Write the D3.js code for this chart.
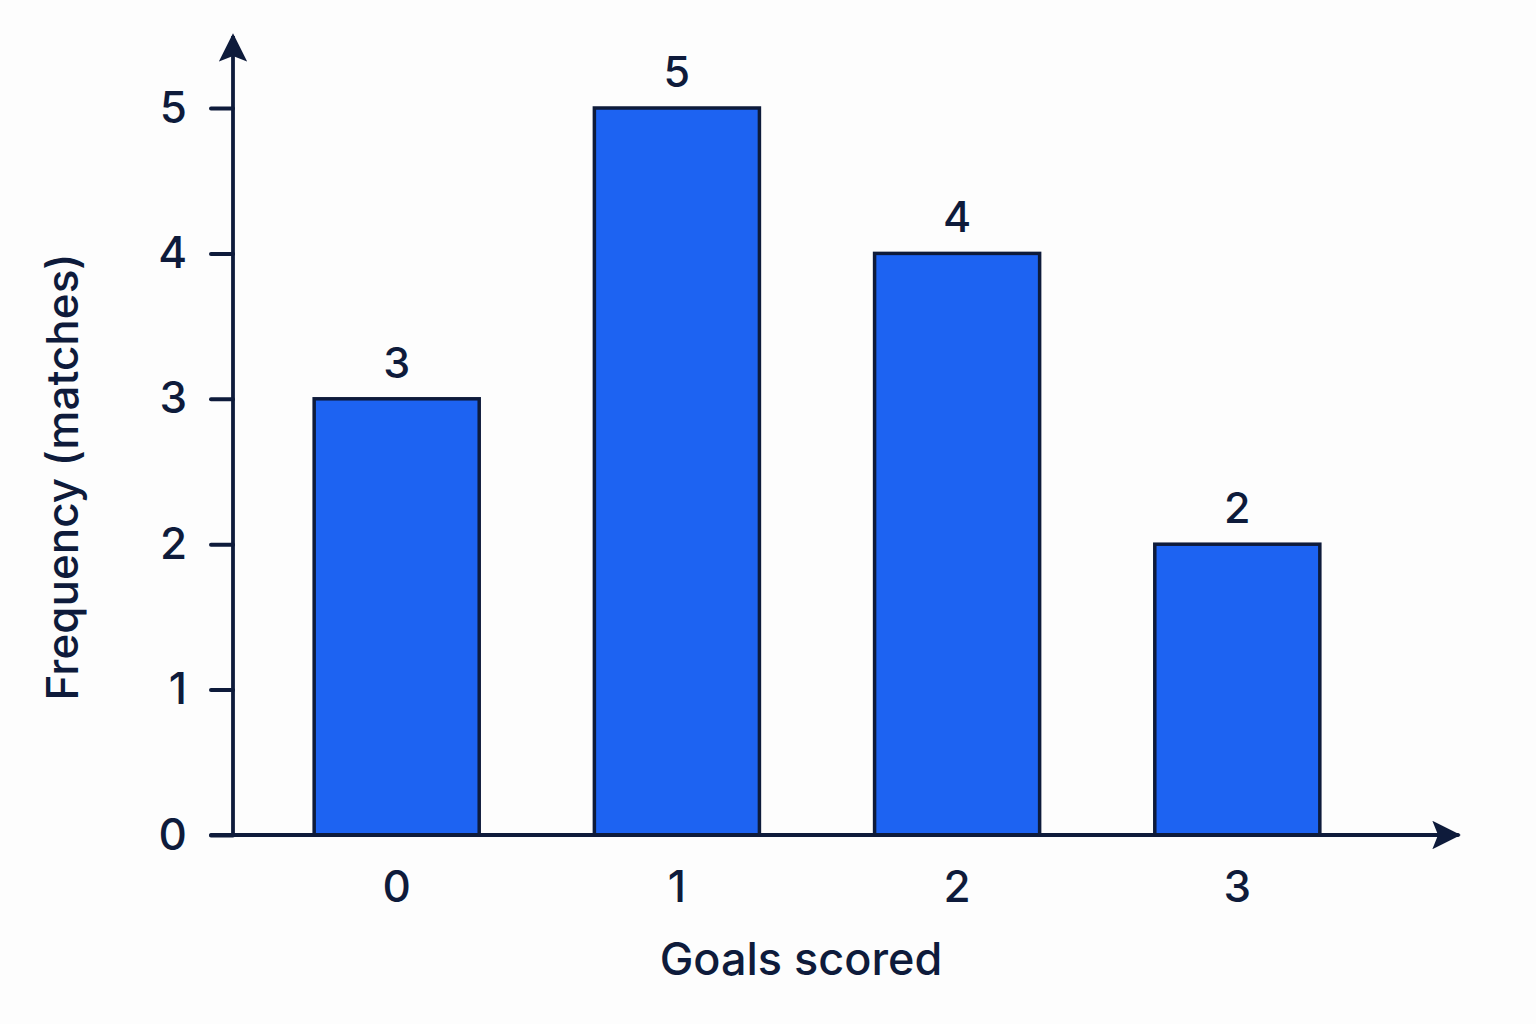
<!DOCTYPE html>
<html>
<head>
<meta charset="utf-8">
<script src="https://cdn.jsdelivr.net/npm/d3@7"></script>
<style>
  body { margin: 0; background: #fdfdfd; }
  svg { display: block; font-family: Inter, "Noto Sans", sans-serif; }
</style>
</head>
<body>
<svg id="chart" width="1536" height="1024"></svg>
<script>
'use strict';

const goals = ['0', '1', '2', '3'];
const matches = [3, 5, 4, 2];
const yTicks = [0, 1, 2, 3, 4, 5];

const ink = '#0e1b3b';
const barFill = '#1d63f2';
const labelFont = 'Inter, "Noto Sans", sans-serif';

const svg = d3.select('#chart');
svg.append('rect').attr('width', '100%').attr('height', '100%').attr('fill', '#fdfdfd');

const x = d3.scaleBand().domain(goals).range([199, 1435]).padding(0.411);
const y = d3.scaleLinear().domain([0, 5]).range([835, 108]);
const axisX = 233;

const defs = svg.append('defs');
defs.append('marker')
    .attr('id', 'arrow')
    .attr('viewBox', '0 0 10 10')
    .attr('refX', 9).attr('refY', 5)
    .attr('markerWidth', 7.5).attr('markerHeight', 7.5)
    .attr('markerUnits', 'strokeWidth')
    .attr('orient', 'auto')
  .append('path')
    .attr('d', 'M0,0 L10,5 L0,10 L2,5 Z')
    .attr('fill', ink);

// bars
svg.append('g').selectAll('rect')
   .data(matches)
   .enter().append('rect')
     .attr('x', (d, i) => x(goals[i]))
     .attr('y', d => y(d))
     .attr('width', x.bandwidth())
     .attr('height', d => y(0) - y(d))
     .attr('fill', barFill)
     .attr('stroke', ink)
     .attr('stroke-width', 3.5);

// value labels
svg.append('g').selectAll('text')
   .data(matches)
   .enter().append('text')
     .attr('x', (d, i) => x(goals[i]) + x.bandwidth() / 2)
     .attr('y', d => y(d) - 21)
     .attr('text-anchor', 'middle')
     .attr('font-size', 43)
     .attr('font-weight', 500)
     .attr('fill', ink)
     .text(d => d);

// y axis with arrow
svg.append('line')
   .attr('x1', axisX).attr('y1', y(0) + 1)
   .attr('x2', axisX).attr('y2', 36)
   .attr('stroke', ink).attr('stroke-width', 3.8)
   .attr('marker-end', 'url(#arrow)');

const yAxis = d3.axisLeft(y).tickValues(yTicks).tickSize(22).tickPadding(24).tickFormat(d3.format('d'));
const yg = svg.append('g').attr('transform', 'translate(' + axisX + ',0)').call(yAxis);
yg.select('.domain').remove();
yg.selectAll('.tick line').attr('stroke', ink).attr('stroke-width', 4).attr('stroke-linecap', 'round');
yg.selectAll('.tick text')
  .attr('fill', ink).attr('font-size', 44).attr('font-weight', 500)
  .attr('font-family', labelFont);

// x axis with arrow
svg.append('line')
   .attr('x1', 211).attr('y1', y(0))
   .attr('x2', 1458).attr('y2', y(0))
   .attr('stroke', ink).attr('stroke-width', 3.8)
   .attr('stroke-linecap', 'round')
   .attr('marker-end', 'url(#arrow)');

const xAxis = d3.axisBottom(x).tickSize(0).tickPadding(36);
const xg = svg.append('g').attr('transform', 'translate(0,' + y(0) + ')').call(xAxis);
xg.select('.domain').remove();
xg.selectAll('.tick text')
  .attr('fill', ink).attr('font-size', 44).attr('font-weight', 500)
  .attr('font-family', labelFont);

// axis titles
svg.append('text')
   .attr('x', 801).attr('y', 975)
   .attr('text-anchor', 'middle')
   .attr('font-size', 45).attr('font-weight', 500)
   .attr('fill', ink)
   .text('Goals scored');

svg.append('text')
   .attr('transform', 'translate(78,477) rotate(-90)')
   .attr('text-anchor', 'middle')
   .attr('font-size', 44).attr('font-weight', 500)
   .attr('fill', ink)
   .text('Frequency (matches)');
</script>
</body>
</html>
